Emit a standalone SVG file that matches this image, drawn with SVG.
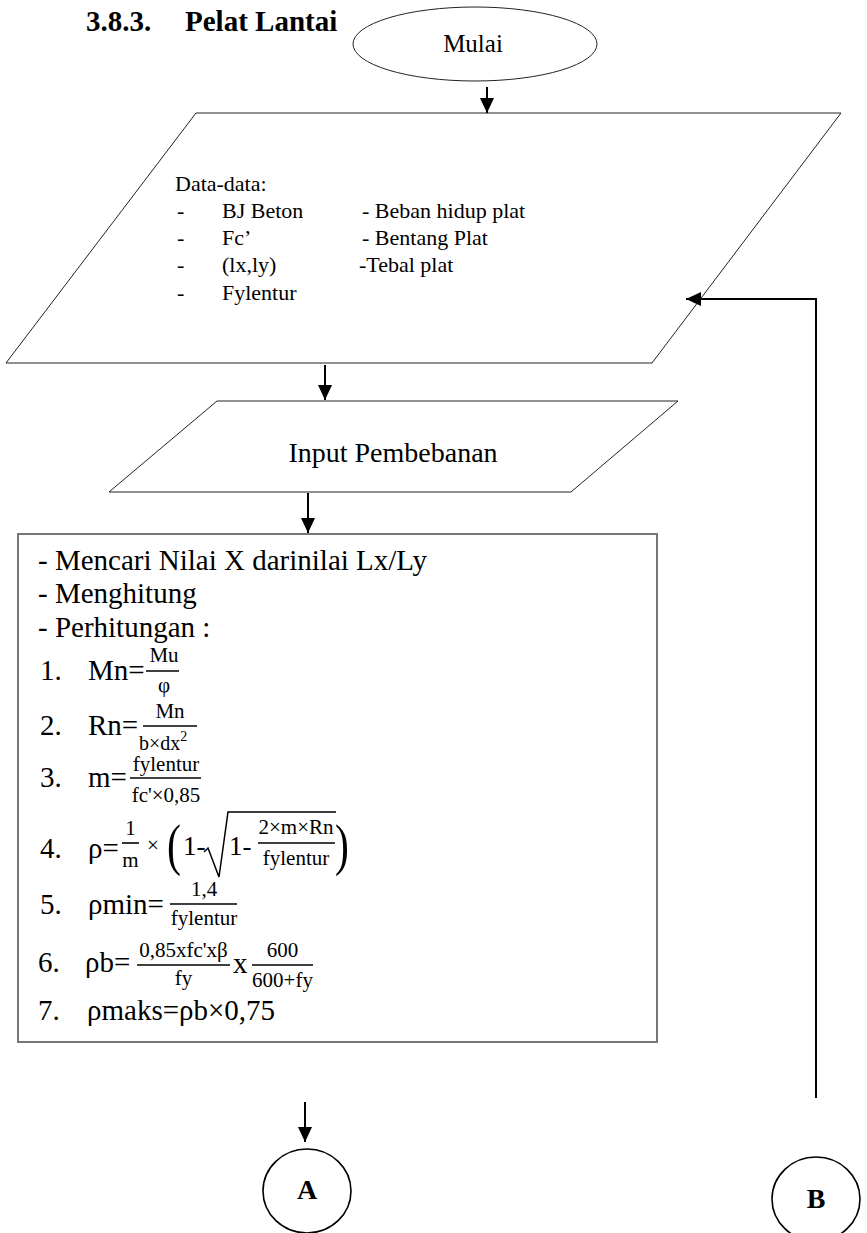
<svg xmlns="http://www.w3.org/2000/svg" width="867" height="1233" viewBox="0 0 867 1233">
<style>
text{font-family:"Liberation Serif","Times New Roman",serif;fill:#000}
.shape{fill:#fff;stroke:#222;stroke-width:1}
.box{fill:#fff;stroke:#777;stroke-width:2}
.circ{fill:#fff;stroke:#000;stroke-width:1.6}
.conn{fill:none;stroke:#000;stroke-width:2}
.t22{font-size:22px}
.t29{font-size:29px}
.t21{font-size:21px}
.fl{stroke:#000;stroke-width:1.6}
.b{font-weight:bold}
</style>
<defs>
<marker id="ah" markerUnits="userSpaceOnUse" markerWidth="16" markerHeight="14" refX="15" refY="7" orient="auto">
<path d="M0,0 L15,7 L0,14 z" fill="#000"/>
</marker>
</defs>
<text class="b" x="86" y="31" font-size="29">3.8.3.</text>
<text class="b" x="185" y="31" font-size="29">Pelat Lantai</text>
<g id="mulai">
<ellipse class="shape" cx="475" cy="44" rx="122" ry="37"/>
<text x="473" y="52" font-size="25" text-anchor="middle">Mulai</text>
</g>
<g id="data">
<polygon class="shape" points="196,113 841,113 652,363 6,363"/>
<text class="t22" x="175" y="191">Data-data:</text>
<text class="t22" x="177" y="218">-</text><text class="t22" x="222" y="218">BJ Beton</text><text class="t22" x="362" y="218">- Beban hidup plat</text>
<text class="t22" x="177" y="245">-</text><text class="t22" x="222" y="245">Fc’</text><text class="t22" x="362" y="245">- Bentang Plat</text>
<text class="t22" x="177" y="272">-</text><text class="t22" x="222" y="272">(lx,ly)</text><text class="t22" x="359" y="272">-Tebal plat</text>
<text class="t22" x="177" y="300">-</text><text class="t22" x="222" y="300">Fylentur</text>
</g>
<g id="input">
<polygon class="shape" points="217,401 678,401 571,492 109,492"/>
<text x="393" y="462" font-size="28" text-anchor="middle">Input Pembebanan</text>
</g>
<g id="hitung">
<rect class="box" x="18" y="534" width="639" height="508"/>
<text class="t29" x="38" y="570">- Mencari Nilai X darinilai Lx/Ly</text>
<text class="t29" x="38" y="603">- Menghitung</text>
<text class="t29" x="38" y="637">- Perhitungan :</text>
<text class="t29" x="40" y="680">1.</text>
<text class="t29" x="88" y="680">Mn=</text>
<text class="t21" x="164" y="662" text-anchor="middle">Mu</text>
<line class="fl" x1="146" y1="671" x2="179" y2="671"/>
<text class="t21" x="164" y="692" text-anchor="middle">φ</text>
<text class="t29" x="40" y="735">2.</text>
<text class="t29" x="88" y="735">Rn=</text>
<text class="t21" x="170" y="718" text-anchor="middle">Mn</text>
<line class="fl" x1="143" y1="726" x2="197" y2="726"/>
<text x="139" y="750" font-size="20">b×dx<tspan font-size="14" dy="-9">2</tspan></text>
<text class="t29" x="40" y="787">3.</text>
<text class="t29" x="88" y="787">m=</text>
<text class="t21" x="166" y="771" text-anchor="middle">fylentur</text>
<line class="fl" x1="130" y1="778" x2="201" y2="778"/>
<text class="t21" x="166" y="802" text-anchor="middle">fc'×0,85</text>
<text class="t29" x="40" y="858">4.</text>
<text class="t29" x="88" y="858">ρ=</text>
<text class="t21" x="130.5" y="835" text-anchor="middle">1</text>
<line class="fl" x1="122" y1="843" x2="139" y2="843"/>
<text class="t21" x="130.5" y="867" text-anchor="middle">m</text>
<text class="t21" x="147" y="852">×</text>
<text font-size="58" transform="translate(167,864) scale(0.72,1)">(</text>
<text x="183" y="855" font-size="27">1-</text>
<polyline fill="none" stroke="#000" stroke-width="1.5" points="204,852 208,848 219,877 228,812 336,812"/>
<text x="229" y="855" font-size="27">1-</text>
<text class="t21" x="296" y="834" text-anchor="middle">2×m×Rn</text>
<line class="fl" x1="258" y1="843" x2="335" y2="843"/>
<text class="t21" x="296" y="865" text-anchor="middle">fylentur</text>
<text font-size="58" transform="translate(335,864) scale(0.72,1)">)</text>
<text class="t29" x="40" y="914">5.</text>
<text class="t29" x="88" y="914">ρmin=</text>
<text class="t21" x="204" y="896" text-anchor="middle">1,4</text>
<line class="fl" x1="170" y1="904" x2="237" y2="904"/>
<text class="t21" x="204" y="925" text-anchor="middle">fylentur</text>
<text class="t29" x="38" y="972">6.</text>
<text class="t29" x="85" y="972">ρb=</text>
<text class="t21" x="183.5" y="957" text-anchor="middle">0,85xfc'xβ</text>
<line class="fl" x1="137" y1="965" x2="230" y2="965"/>
<text class="t21" x="183.5" y="985" text-anchor="middle">fy</text>
<text class="t29" x="233" y="973">x</text>
<text class="t21" x="282.5" y="957" text-anchor="middle">600</text>
<line class="fl" x1="252" y1="965" x2="313" y2="965"/>
<text class="t21" x="282.5" y="987" text-anchor="middle">600+fy</text>
<text class="t29" x="38" y="1020">7.</text>
<text class="t29" x="87" y="1020">ρmaks=ρb×0,75</text>
</g>
<g id="A">
<ellipse class="circ" cx="307" cy="1191" rx="44" ry="42"/>
<text class="b" x="307" y="1199" font-size="28" text-anchor="middle">A</text>
</g>
<g id="B">
<ellipse class="circ" cx="816" cy="1199" rx="44" ry="42"/>
<text class="b" x="816" y="1208" font-size="28" text-anchor="middle">B</text>
</g>
<g id="connectors">
<line class="conn" x1="487" y1="87" x2="487" y2="113" marker-end="url(#ah)"/>
<line class="conn" x1="325" y1="365" x2="325" y2="400" marker-end="url(#ah)"/>
<line class="conn" x1="308" y1="493" x2="308" y2="533" marker-end="url(#ah)"/>
<line class="conn" x1="305" y1="1102" x2="305" y2="1142" marker-end="url(#ah)"/>
<polyline class="conn" points="816,1098 816,299 686,299" marker-end="url(#ah)"/>
</g>
</svg>
